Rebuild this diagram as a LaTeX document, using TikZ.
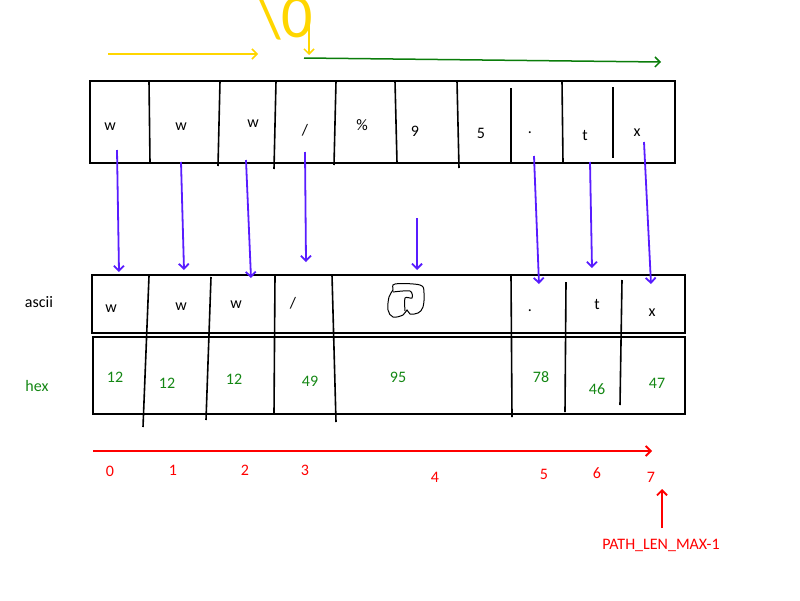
\documentclass[tikz,border=0pt]{standalone}
\usepackage{fontspec}
\setmainfont{Carlito}
\usetikzlibrary{arrows.meta}
\definecolor{ptrblue}{RGB}{88,28,255}
\definecolor{hexgreen}{RGB}{20,135,20}
\definecolor{idxred}{RGB}{255,0,0}
\definecolor{nulyellow}{RGB}{255,214,0}
\definecolor{restgreen}{RGB}{10,125,10}

\begin{document}
\begin{tikzpicture}[x=1pt,y=-1pt,
    cell/.style={font=\fontsize{16}{18}\selectfont, inner sep=0pt},
    hexnum/.style={cell, text=hexgreen},
    idx/.style={cell, text=idxred},
    box/.style={line width=2.3pt},
    sep/.style={line width=1.6pt},
    barb/.style={-{Straight Barb[length=5pt,width=10pt]}},
    ptr/.style={barb, line width=1.8pt, ptrblue}]
\useasboundingbox (0,0) rectangle (800,600);

% string buffer
\draw[box] (90,81) rectangle (675,163);
\draw[sep] (149,81) -- (150,163);
\draw[sep] (220,81) -- (218,166);
\draw[sep] (276,81) -- (274,169);
\draw[sep] (336,81) -- (334,165);
\draw[sep] (395,81) -- (397,163);
\draw[sep] (457,81) -- (459,168);
\draw[sep] (511,88) -- (511,163);
\draw[sep] (562,81) -- (563,163);
\draw[sep] (613,87) -- (613,158);

\node[cell] (s1) at (110,127) {w};
\node[cell] (s2) at (181,127) {w};
\node[cell] (s3) at (253,124) {w};
\node[cell] (s4) at (305,130) {/};
\node[cell] (s5) at (362,125) {\%};
\node[cell] (s6) at (415,131) {9};
\node[cell] (s7) at (481,133) {5};
\node[cell] (s8) at (530,133) {.};
\node[cell] (s9) at (585,135) {t};
\node[cell] (s10) at (637,133) {x};

% terminator and rest
\node[font=\fontsize{62}{62}\selectfont, text=nulyellow, inner sep=0pt, anchor=base] (nul) at (285,37) {\textbackslash0};
\coordinate (y1) at (108,54);
\coordinate (y2) at (258,54);
\coordinate (y3) at (309,20);
\coordinate (y4) at (309,55);
\draw[barb, line width=1.5pt, nulyellow] (y1) -- (y2);
\draw[barb, line width=1.5pt, nulyellow] (y3) -- (y4);
\coordinate (g1) at (304,58);
\coordinate (g2) at (661,62);
\draw[barb, line width=1.5pt, restgreen] (g1) -- (g2);

% decoded buffer
\draw[box] (92,275) rectangle (685,333);
\draw[box] (93,337) rectangle (685,414);
\draw[sep] (149,276) -- (143,427);
\draw[sep] (211,277) -- (206,420);
\draw[sep] (275,275) -- (274,414);
\draw[sep] (332,275) -- (336,422);
\draw[sep] (511,275) -- (512,417);
\draw[sep] (566,282) -- (565,412);
\draw[sep] (622,280) -- (620,405);

\node[cell] (lascii) at (39,302) {ascii};
\node[cell, text=hexgreen] (lhex) at (37,386) {hex};

\node[cell] (a1) at (111,309) {w};
\node[cell] (a2) at (181,307) {w};
\node[cell] (a3) at (236,305) {w};
\node[cell] (a4) at (293,303) {/};
\node[cell] (a6) at (530,311) {.};
\node[cell] (a7) at (597,304) {t};
\node[cell] (a8) at (652,313) {x};
% unprintable byte
\draw[line width=1pt] plot[smooth cycle, tension=0.6] coordinates {
  (395,284) (420,285) (424,293) (423,307) (418,313) (410,314)
  (407,310) (403,315) (393,317) (388,310) (389,297) (393,290)};
\draw[line width=1pt] plot[smooth, tension=0.5] coordinates {
  (393,292) (410,291) (412,298) (405,298) (405,311)};

\foreach \i/\v/\x/\y in {1/12/115/377, 2/12/167/383, 3/12/234/379, 4/49/310/381,
                         5/95/398/377, 6/78/541/377, 7/46/597/389, 8/47/657/383}
  \node[hexnum] (h\i) at (\x,\y) {\v};

% copy arrows
\foreach \i/\sx/\sy/\ex/\ey in {1/117/150/119/272, 2/181/162/184/270, 3/246/160/251/278,
                               4/305/152/306/262, 5/417/218/417/270, 6/534/156/539/284,
                               7/590/162/592/268, 8/644/142/651/284}
{
  \coordinate (ps\i) at (\sx,\sy);
  \coordinate (pe\i) at (\ex,\ey);
  \draw[ptr] (ps\i) -- (pe\i);
}

% index
\coordinate (r1) at (93,451);
\coordinate (r2) at (652,451);
\draw[barb, line width=1.8pt, idxred] (r1) -- (r2);
\foreach \i/\x/\y in {0/110/471, 1/173/470, 2/245/470, 3/305/470,
                      4/435/477, 5/544/474, 6/597/473, 7/651/477}
  \node[idx] (i\i) at (\x,\y) {\i};
\node[idx] (pmax) at (661,545) {PATH\_LEN\_MAX-1};
\coordinate (pm1) at (662,528);
\coordinate (pm2) at (662,489);
\draw[barb, line width=1.8pt, idxred] (pm1) -- (pm2);
\end{tikzpicture}
\end{document}
